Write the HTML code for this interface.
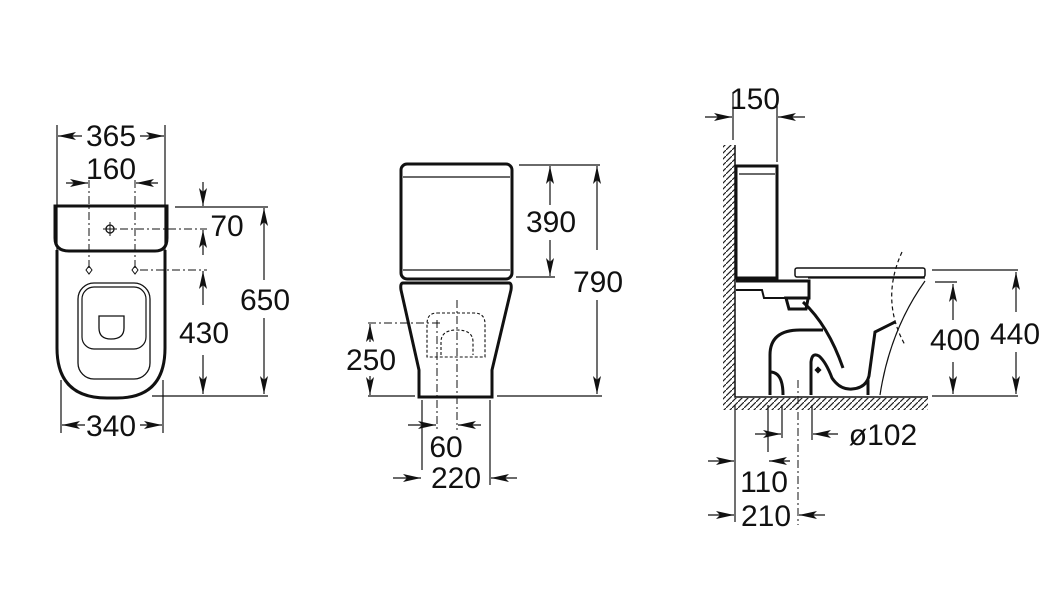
<!DOCTYPE html>
<html><head><meta charset="utf-8"><style>
html,body{margin:0;padding:0;background:#fff;}
svg{display:block;}
text{font-family:"Liberation Sans",Arial,sans-serif;font-size:30px;fill:#111;}
</style></head><body>
<svg width="1049" height="603" viewBox="0 0 1049 603" xmlns="http://www.w3.org/2000/svg">
<defs>
<marker id="a" viewBox="0 0 18 10" refX="18" refY="5" markerWidth="18" markerHeight="10" markerUnits="userSpaceOnUse" orient="auto"><path d="M0,1 L18,5 L0,9 L4,5 Z" fill="#111"/></marker>
<pattern id="h" width="6" height="6" patternUnits="userSpaceOnUse"><path d="M-1,7 L7,-1" stroke="#222" stroke-width="1.2"/></pattern>
</defs>
<g stroke="#111" fill="none">
<!-- LEFT VIEW -->
<path d="M55,206 H167 V238 Q167,251 155,251 H69 Q55,251 55,238 Z" stroke-width="3"/>
<path d="M57,250 V348 Q57,398 107,398 H117 Q165,398 165,348 V250" stroke-width="3"/>
<rect x="78" y="283" width="72" height="96" rx="16" stroke-width="1.3"/>
<rect x="82" y="287" width="64" height="62" rx="12" stroke-width="1.2"/>
<path d="M99,316 H124 V328 Q124,339 111,339 Q99,339 99,328 Z" stroke-width="1.3"/>
<circle cx="110" cy="229" r="4" stroke-width="1.3"/>
<path d="M103,229 H117 M110,222 V236" stroke-width="1"/>
<path d="M89,180 V268 M135,180 V268" stroke-width="1" stroke-dasharray="8,3,2,3"/>
<path d="M89,266 L92,270 L89,274 L86,270Z M135,266 L138,270 L135,274 L132,270Z" stroke-width="1"/>
<path d="M57,125 V262 M165,125 V262" stroke-width="1.2"/>
<path d="M120,229 H207 M140,270 H207" stroke-width="1" stroke-dasharray="8,3,2,3"/>
<path d="M175,207 H268 M152,396 H268" stroke-width="1.2"/>
<path d="M61,380 V433 M163,380 V433" stroke-width="1.2"/>
<g stroke-width="1.2" marker-end="url(#a)">
<path d="M82,136 H58"/><path d="M140,136 H164"/>
<path d="M66,183 H88"/><path d="M158,183 H136"/>
<path d="M203,182 V206"/><path d="M203,255 V230"/>
<path d="M203,305 V271"/><path d="M203,355 V394"/>
<path d="M264,280 V208"/><path d="M264,318 V394"/>
<path d="M85,425 H62"/><path d="M140,425 H162"/>
</g>
<!-- MIDDLE VIEW -->
<rect x="401" y="164" width="111" height="115" rx="6" stroke-width="3"/>
<path d="M403,177 H510 M403,270 H510" stroke-width="1.2"/>
<path d="M403,283 Q400,283 401,290 L419,370 V397 H492 V370 L511,290 Q512,283 509,283 Z" stroke-width="3"/>
<path d="M437,313 H474 Q485,313 485,324 V357 H427 V324 Q427,313 437,313 Z" stroke-width="1.1" stroke-dasharray="3,2"/>
<path d="M441,355 V342 Q441,330 457,330 Q473,330 473,342 V355" stroke-width="1.1" stroke-dasharray="3,2"/>
<path d="M457,300 V430 M437,320 V430 M368,323 H440" stroke-width="1" stroke-dasharray="8,3,2,3"/>
<path d="M368,396 H415 M497,396 H602 M519,165 H600 M516,277 H555" stroke-width="1.2"/>
<path d="M422,400 V470 M490,400 V485" stroke-width="1.2"/>
<g stroke-width="1.2" marker-end="url(#a)">
<path d="M370,342 V324"/><path d="M370,376 V395"/>
<path d="M550,205 V166"/><path d="M550,240 V276"/>
<path d="M597,250 V166"/><path d="M597,300 V394"/>
<path d="M408,425 H436"/><path d="M481,425 H458"/>
<path d="M393,478 H421"/><path d="M517,478 H491"/>
</g>
<!-- RIGHT VIEW -->
<rect x="723" y="145" width="12" height="253" fill="url(#h)" stroke="none"/>
<rect x="723" y="398" width="205" height="12" fill="url(#h)" stroke="none"/>
<path d="M735,145 V397 H928" stroke-width="1.5"/>
<rect x="736" y="166" width="41" height="112" stroke-width="3"/>
<path d="M739,174 H775" stroke-width="1.2"/>
<path d="M736,281 H809 V298 H786 L789,309 H806 L808,299" stroke-width="3"/>
<path d="M736,290 H762 L764,298 H786" stroke-width="2"/>
<rect x="795" y="268" width="130" height="9" rx="2" stroke-width="1.5"/>
<path d="M808,278 H925" stroke-width="1.2"/>
<path d="M803,302 Q828,325 843,368" stroke-width="3"/>
<path d="M770,395 V355 Q770,330 800,330 H823" stroke-width="3"/>
<path d="M770,372 Q783,372 783,395" stroke-width="3"/>
<path d="M811,395 V362 Q812,352 819,356 Q826,362 832,378 Q840,390 852,389 Q866,388 869,376 L875,332 L895,322" stroke-width="3"/>
<path d="M868,395 V380" stroke-width="3"/>
<path d="M925,281 Q890,330 880,395" stroke-width="1.2"/>
<path d="M902,252 Q880,300 905,345" stroke-width="1.2" stroke-dasharray="4,3"/>
<path d="M818,367 l3,3 l-3,3 l-3,-3z" fill="#111" stroke-width="0.8"/>
<path d="M733,92 V140 M777,92 V162" stroke-width="1.2"/>
<path d="M932,270 H1018 M935,282 H957 M932,396 H1018" stroke-width="1.2"/>
<path d="M735,405 V522 M768,405 V452 M782,405 V438 M812,405 V440" stroke-width="1.2"/>
<path d="M798,380 V525" stroke-width="1" stroke-dasharray="8,3,2,3"/>
<g stroke-width="1.2" marker-end="url(#a)">
<path d="M705,117 H732"/><path d="M805,117 H778"/>
<path d="M953,320 V284"/><path d="M953,362 V394"/>
<path d="M1016,312 V272"/><path d="M1016,352 V394"/>
<path d="M755,434 H781"/><path d="M838,434 H813"/>
<path d="M708,461 H734"/><path d="M790,461 H769"/>
<path d="M708,515 H734"/><path d="M825,515 H799"/>
</g>
</g>
<g text-anchor="middle">
<text x="111" y="146">365</text>
<text x="111" y="179">160</text>
<text x="227" y="236">70</text>
<text x="204" y="343">430</text>
<text x="265" y="310">650</text>
<text x="111" y="436">340</text>
<text x="551" y="232">390</text>
<text x="598" y="292">790</text>
<text x="371" y="370">250</text>
<text x="446" y="457">60</text>
<text x="456" y="488">220</text>
<text x="755" y="109">150</text>
<text x="955" y="350">400</text>
<text x="1015" y="344">440</text>
<text x="883" y="445">ø102</text>
<text x="764" y="492">110</text>
<text x="766" y="526">210</text>
</g>
</svg>
</body></html>
